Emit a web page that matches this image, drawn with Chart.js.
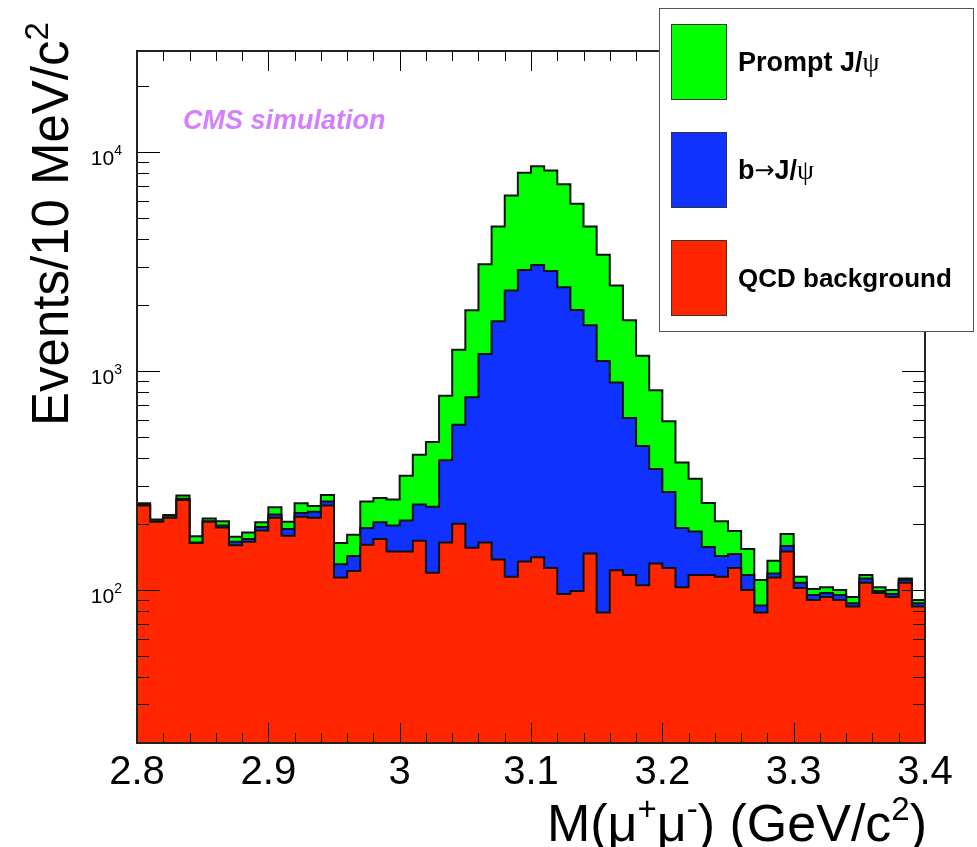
<!DOCTYPE html>
<html>
<head>
<meta charset="utf-8">
<script src="https://cdn.jsdelivr.net/npm/chart.js@4.4.0/dist/chart.umd.min.js"></script>
<style>
  html, body { margin: 0; padding: 0; background: #fff; }
</style>
</head>
<body>
<canvas id="massChart" width="977" height="847"></canvas>
<script>
// lower edges of the 10 MeV bins, GeV/c^2
const binLow = [
  2.80, 2.81, 2.82, 2.83, 2.84, 2.85, 2.86, 2.87, 2.88, 2.89,
  2.90, 2.91, 2.92, 2.93, 2.94, 2.95, 2.96, 2.97, 2.98, 2.99,
  3.00, 3.01, 3.02, 3.03, 3.04, 3.05, 3.06, 3.07, 3.08, 3.09,
  3.10, 3.11, 3.12, 3.13, 3.14, 3.15, 3.16, 3.17, 3.18, 3.19,
  3.20, 3.21, 3.22, 3.23, 3.24, 3.25, 3.26, 3.27, 3.28, 3.29,
  3.30, 3.31, 3.32, 3.33, 3.34, 3.35, 3.36, 3.37, 3.38, 3.39
];
const massMax = 3.40;

const qcdBackground = [
  243, 205, 214, 258, 164, 205, 193, 160, 166, 187,
  214, 177, 216, 214, 243, 114, 122, 161, 171, 150,
  150, 168, 120, 165, 201, 156, 165, 138, 115, 135,
  141, 126, 96, 99, 147, 79, 123, 117, 105, 132,
  126, 103, 117, 117, 115, 126, 100, 79, 114, 150,
  102, 90, 93, 90, 84, 108, 97, 93, 108, 84
];
const bToJpsi = [
  2, 1, 1, 3, 1, 1, 4, 6, 5, 7,
  7, 13, 9, 14, 11, 17, 21, 31, 33, 47,
  58, 78, 120, 227, 368, 603, 1031, 1552, 2219, 2762,
  2911, 2741, 2319, 1804, 1474, 1032, 765, 494, 350, 225,
  154, 89, 68, 40, 28, 20, 17, 6, 5, 9,
  6, 5, 4, 5, 3, 5, 2, 3, 3, 3
];
const promptJpsi = [
  4, 4, 5, 9, 11, 6, 9, 9, 12, 10,
  18, 15, 24, 14, 18, 33, 36, 62, 59, 62,
  125, 169, 235, 380, 682, 1138, 1879, 2893, 4013, 5159,
  5584, 5383, 4731, 3915, 2962, 2294, 1572, 1097, 719, 460,
  310, 190, 137, 93, 63, 40, 37, 26, 17, 21,
  7, 6, 6, 5, 6, 4, 4, 4, 2, 3
];

const xTickLabels = ["2.8", "2.9", "3", "3.1", "3.2", "3.3", "3.4"];
const yLabelValues = [100, 1000, 10000];
const yLabelExponents = ["2", "3", "4"];

const GREEN = "#00ff00", BLUE = "#0f32ff", RED = "#ff2600";

// histogram as stepped points, last edge repeats the last bin
function toSteps(values) {
  const pts = binLow.map((x, i) => ({ x, y: values[i] }));
  pts.push({ x: massMax, y: values[values.length - 1] });
  return pts;
}

function drawRich(ctx, parts, x, y) {
  let cx = x;
  parts.forEach(([text, font, dy]) => {
    ctx.font = font;
    ctx.fillText(text, cx, y + (dy || 0));
    cx += ctx.measureText(text).width;
  });
  return cx - x;
}
function richWidth(ctx, parts) {
  let w = 0;
  parts.forEach(([text, font]) => { ctx.font = font; w += ctx.measureText(text).width; });
  return w;
}

const SANS = "'Liberation Sans', Arial, sans-serif";

const decorations = {
  id: "decorations",
  afterDatasetsDraw(chart) {
    const { ctx, chartArea: a, scales: { x, y } } = chart;
    ctx.save();

    // ticks, drawn inwards on all four sides
    ctx.strokeStyle = "#000";
    ctx.lineWidth = 1;
    ctx.beginPath();
    for (let k = 0; k <= 30; k++) {
      const px = Math.round(x.getPixelForValue(2.8 + k * 0.02)) + 0.5;
      const len = k % 5 === 0 ? 20 : 10;
      ctx.moveTo(px, a.bottom); ctx.lineTo(px, a.bottom - len);
      ctx.moveTo(px, a.top); ctx.lineTo(px, a.top + len);
    }
    [10, 100, 1000, 10000].forEach(dec => {
      for (let m = 1; m <= 9; m++) {
        const v = m * dec;
        if (v < y.min || v > y.max) continue;
        const py = Math.round(y.getPixelForValue(v)) + 0.5;
        const len = m === 1 ? 23 : 12;
        ctx.moveTo(a.left, py); ctx.lineTo(a.left + len, py);
        ctx.moveTo(a.right, py); ctx.lineTo(a.right - len, py);
      }
    });
    ctx.stroke();

    // frame
    ctx.strokeStyle = "#222";
    ctx.lineWidth = 2;
    ctx.strokeRect(a.left, a.top, a.right - a.left, a.bottom - a.top);

    ctx.fillStyle = "#000";
    ctx.textBaseline = "alphabetic";

    // x tick labels
    ctx.font = "40px " + SANS;
    ctx.textAlign = "center";
    xTickLabels.forEach(t => {
      ctx.fillText(t, x.getPixelForValue(parseFloat(t)), 784);
    });

    // y tick labels 10^n
    ctx.textAlign = "left";
    yLabelValues.forEach((v, i) => {
      const py = y.getPixelForValue(v);
      const parts = [["10", "21px " + SANS, 0], [yLabelExponents[i], "14px " + SANS, -10]];
      const w = richWidth(ctx, parts);
      drawRich(ctx, parts, a.left - 15 - w, py + 13);
    });

    // x title
    const xt = [
      ["M(\u03bc", "52px " + SANS, 0], ["+", "33px " + SANS, -21],
      ["\u03bc", "52px " + SANS, 0], ["-", "33px " + SANS, -21],
      [") (GeV/c", "52px " + SANS, 0], ["2", "33px " + SANS, -21],
      [")", "52px " + SANS, 0]
    ];
    drawRich(ctx, xt, a.right + 2 - richWidth(ctx, xt), 841);

    // y title
    ctx.save();
    ctx.translate(68, 426);
    ctx.rotate(-Math.PI / 2);
    drawRich(ctx, [["Events/10 MeV/c", "51px " + SANS, 0], ["2", "33px " + SANS, -20]], 0, 0);
    ctx.restore();

    // CMS label
    ctx.fillStyle = "#d47ffc";
    ctx.font = "italic bold 27px " + SANS;
    ctx.fillText("CMS simulation", 183, 129);

    // legend box
    ctx.fillStyle = "#fff";
    ctx.fillRect(659.5, 8.5, 314, 323);
    ctx.strokeStyle = "#555";
    ctx.lineWidth = 1;
    ctx.strokeRect(659.5, 8.5, 314, 323);
    const entries = [
      [GREEN, 24, [["Prompt J/", "bold 27px " + SANS], ["\u03c8", "27px 'Liberation Serif', serif"]]],
      [BLUE, 132, [["b", "bold 27px " + SANS], ["\u2192", "24px 'DejaVu Sans', sans-serif", -1], ["J/", "bold 27px " + SANS], ["\u03c8", "27px 'Liberation Serif', serif"]]],
      [RED, 240, [["QCD background", "bold 26px " + SANS]]]
    ];
    entries.forEach(([col, top, parts]) => {
      ctx.fillStyle = col;
      ctx.fillRect(671, top, 56, 76);
      ctx.strokeStyle = "#333";
      ctx.strokeRect(671.5, top + 0.5, 55, 75);
      ctx.fillStyle = "#000";
      drawRich(ctx, parts, 738, top + 47);
    });

    ctx.restore();
  }
};

const lineStyle = {
  stepped: "before",
  borderColor: "#111",
  borderWidth: 2,
  pointRadius: 0,
  tension: 0
};

new Chart(document.getElementById("massChart"), {
  type: "line",
  data: {
    datasets: [
      { label: "QCD background", data: toSteps(qcdBackground), backgroundColor: RED, fill: "start", ...lineStyle },
      { label: "b\u2192J/\u03c8", data: toSteps(bToJpsi), backgroundColor: BLUE, fill: "-1", ...lineStyle },
      { label: "Prompt J/\u03c8", data: toSteps(promptJpsi), backgroundColor: GREEN, fill: "-1", ...lineStyle }
    ]
  },
  options: {
    responsive: false,
    animation: false,
    devicePixelRatio: 1,
    layout: { padding: { left: 137, top: 51, right: 52, bottom: 104 } },
    plugins: { legend: { display: false }, tooltip: { enabled: false } },
    scales: {
      x: { type: "linear", min: 2.8, max: massMax, display: false },
      y: { type: "logarithmic", min: 20, max: 29000, stacked: true, display: false }
    }
  },
  plugins: [decorations]
});
</script>
</body>
</html>
